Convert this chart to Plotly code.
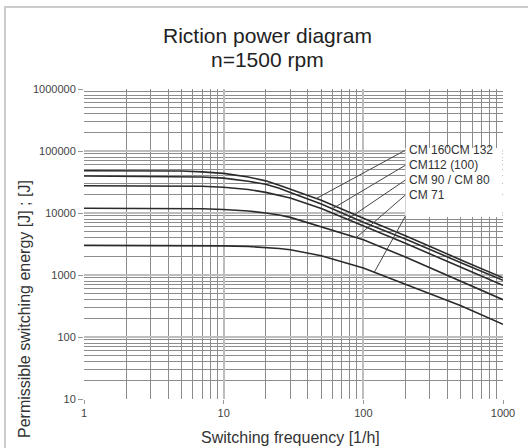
import numpy as np
import plotly.graph_objects as go

# ---- data ----
freq = [1, 5, 7, 10, 15, 20, 25, 30, 50, 100, 200, 500, 1000]
cm160_132 = [48000, 47500, 46000, 43500, 38000, 33000, 28000, 24000, 16000, 8200, 4300, 1750, 900]
cm112_100 = [39500, 39000, 38000, 36500, 32500, 29000, 25000, 21500, 14000, 7100, 3800, 1580, 820]
cm90_80 = [27500, 27300, 27000, 26000, 24000, 21500, 19500, 17500, 11800, 6200, 3250, 1330, 680]
cm71 = [11900, 11800, 11700, 11400, 10800, 10000, 9300, 8500, 6000, 3700, 1950, 800, 400]
cm_small = [3000, 3000, 2980, 2950, 2880, 2800, 2680, 2550, 2050, 1300, 720, 320, 160]

series = [cm160_132, cm112_100, cm90_80, cm71, cm_small]
labels = ["CM 160CM 132", "CM112 (100)", "CM 90 / CM 80", "CM 71", ""]
label_energy = [103000, 59000, 34000, 19500, 8900]   # label anchor heights
label_freq = 200                                     # label anchor frequency
leader_freq = [46, 60, 77, 89, 120]                  # where leaders touch curves

x_ticks = [1, 10, 100, 1000]
y_ticks = [10, 100, 1000, 10000, 100000, 1000000]

fig = go.Figure()

# white label box (covers grid)
box_f = [200, 990, 990, 200, 200]
box_e = [112000, 112000, 8600, 8600, 112000]
fig.add_trace(go.Scatter(x=box_f, y=box_e, mode="lines", fill="toself",
                         fillcolor="white", line=dict(width=0),
                         hoverinfo="skip", showlegend=False))

for s in series:
    fig.add_trace(go.Scatter(x=freq, y=s, mode="lines",
                             line=dict(color="#2b2b2b", width=1.6),
                             showlegend=False))

lf = np.log10(freq)
for s, f, e in zip(series, leader_freq, label_energy):
    ye = 10 ** np.interp(np.log10(f), lf, np.log10(s))
    fig.add_trace(go.Scatter(x=[label_freq, f], y=[e, ye], mode="lines",
                             line=dict(color="#444", width=1),
                             hoverinfo="skip", showlegend=False))

for t, e in zip(labels, label_energy):
    if t:
        fig.add_annotation(x=np.log10(label_freq) + 0.01, y=np.log10(e), text=t,
                           xref="x", yref="y", showarrow=False,
                           xanchor="left", yanchor="middle",
                           font=dict(size=12, color="#333"))

# outer frame
fig.add_shape(type="rect", xref="paper", yref="paper",
              x0=-0.1885, x1=1.064, y0=-0.1645, y1=1.2645,
              line=dict(color="#cccccc", width=2), layer="below")

# title lines
fig.add_annotation(xref="paper", yref="paper", x=(267 - 84) / 419, y=(399 - 35) / 310,
                   text="Riction power diagram", showarrow=False,
                   xanchor="center", yanchor="middle",
                   font=dict(size=21, color="#222"))
fig.add_annotation(xref="paper", yref="paper", x=(267 - 84) / 419, y=(399 - 59) / 310,
                   text="n=1500 rpm", showarrow=False,
                   xanchor="center", yanchor="middle",
                   font=dict(size=21, color="#222"))

fig.add_annotation(xref="paper", yref="paper", x=(290 - 84) / 419, y=(399 - 437) / 310,
                   text="Switching frequency [1/h]", showarrow=False,
                   xanchor="center", yanchor="middle",
                   font=dict(size=16, color="#333"))
fig.add_annotation(xref="paper", yref="paper", x=(24 - 84) / 419, y=(399 - 309) / 310,
                   text="Permissible switching energy [J] ; [J]", showarrow=False,
                   xanchor="center", yanchor="middle",
                   textangle=-90, font=dict(size=16, color="#333"))

fig.update_layout(
    width=528, height=448,
    margin=dict(l=84, r=25, t=89, b=49),
    paper_bgcolor="white", plot_bgcolor="white",
    font=dict(family="Liberation Sans, Arial, sans-serif", color="#333"),
    xaxis=dict(type="log", range=[0, 3], tickvals=x_ticks,
               ticktext=[str(v) for v in x_ticks], automargin=False,
               showgrid=True, gridcolor="#bdbdbd", gridwidth=2,
               ticks="outside", ticklen=4, tickcolor="#999",
               tickfont=dict(size=11, color="#444"),
               minor=dict(dtick="D1", showgrid=True, gridcolor="#8c8c8c", gridwidth=1),
               showline=False, zeroline=False),
    yaxis=dict(type="log", range=[1, 6], tickvals=y_ticks,
               ticktext=[str(v) for v in y_ticks], automargin=False,
               showgrid=True, gridcolor="#bdbdbd", gridwidth=2,
               ticks="outside", ticklen=5, tickcolor="#999",
               tickfont=dict(size=11, color="#444"),
               minor=dict(dtick="D1", showgrid=True, gridcolor="#8c8c8c", gridwidth=1),
               showline=False, zeroline=False),
)

fig.write_html("out.html", config={"displayModeBar": False},
               post_script="document.body.style.margin='0';document.body.style.padding='0';")
